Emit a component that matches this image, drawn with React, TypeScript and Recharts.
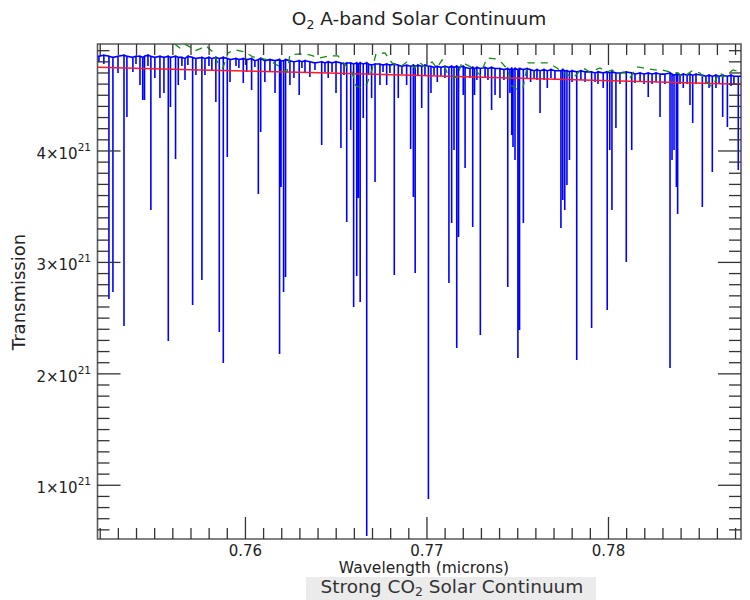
import { ComposedChart, Line, ReferenceArea, XAxis, YAxis } from "recharts";

// transmission values are in units of 1e21
// [wavelength (microns), local top of the spectrum, bottom of the line]
const absorption: [number, number, number][] = [
  [0.75185, 4.85, 4.85], [0.75193, 4.85, 4.8], [0.7522, 4.86, 4.781], [0.75248, 4.85, 2.671],
  [0.7527, 4.84, 2.734], [0.75298, 4.85, 4.7], [0.75331, 4.86, 2.429], [0.75347, 4.85, 4.305],
  [0.7538, 4.84, 4.709], [0.75397, 4.85, 4.781], [0.75419, 4.85, 4.592], [0.75434, 4.84, 4.458],
  [0.75444, 4.85, 4.458], [0.75463, 4.86, 4.763], [0.75479, 4.85, 3.47], [0.75501, 4.84, 4.655],
  [0.75529, 4.85, 4.476], [0.75551, 4.84, 4.521], [0.75575, 4.85, 2.294], [0.75587, 4.84, 4.395],
  [0.75615, 4.85, 3.928], [0.7563, 4.84, 4.592], [0.7565, 4.84, 4.763], [0.75667, 4.83, 4.637],
  [0.75683, 4.85, 4.772], [0.75709, 4.84, 2.618], [0.75727, 4.83, 4.682], [0.7576, 4.84, 2.842],
  [0.75777, 4.83, 4.682], [0.75799, 4.84, 4.763], [0.75815, 4.83, 4.727], [0.75837, 4.84, 4.44],
  [0.75856, 4.83, 2.375], [0.75878, 4.84, 2.097], [0.759, 4.83, 3.946], [0.75915, 4.82, 4.619],
  [0.75948, 4.83, 4.763], [0.75964, 4.82, 4.745], [0.75988, 4.83, 4.61], [0.76007, 4.82, 4.709],
  [0.76034, 4.83, 4.548], [0.76052, 4.81, 4.754], [0.76071, 4.82, 3.614], [0.76084, 4.83, 4.171],
  [0.76107, 4.81, 4.619], [0.76135, 4.82, 4.709], [0.76163, 4.81, 4.521], [0.76188, 4.82, 2.178],
  [0.76196, 4.81, 3.677], [0.7621, 4.81, 2.734], [0.76221, 4.82, 2.869], [0.76245, 4.81, 4.592],
  [0.76267, 4.8, 4.655], [0.76296, 4.81, 4.503], [0.76311, 4.8, 4.745], [0.76328, 4.81, 4.709],
  [0.76355, 4.8, 4.664], [0.76383, 4.79, 4.727], [0.7642, 4.8, 4.054], [0.76438, 4.79, 4.709],
  [0.76456, 4.8, 4.655], [0.76477, 4.79, 4.709], [0.76499, 4.8, 4.521], [0.76526, 4.79, 4.027],
  [0.76543, 4.78, 4.682], [0.76558, 4.79, 3.363], [0.7658, 4.79, 4.189], [0.76596, 4.78, 2.6],
  [0.76613, 4.79, 2.878], [0.76622, 4.78, 3.578], [0.76632, 4.79, 2.644], [0.76649, 4.78, 4.296],
  [0.76668, 4.79, 0.544], [0.76678, 4.78, 4.682], [0.76695, 4.77, 4.476], [0.76714, 4.78, 3.722],
  [0.76741, 4.78, 4.592], [0.76758, 4.77, 4.709], [0.76778, 4.78, 4.592], [0.76796, 4.77, 4.7],
  [0.7682, 4.78, 2.887], [0.76842, 4.77, 4.476], [0.76862, 4.76, 4.691], [0.76888, 4.77, 4.592],
  [0.7691, 4.76, 4.018], [0.76925, 4.77, 3.587], [0.76935, 4.76, 2.905], [0.7695, 4.77, 4.682],
  [0.76971, 4.76, 4.386], [0.76989, 4.77, 4.673], [0.77008, 4.76, 0.876], [0.77022, 4.76, 4.521],
  [0.77039, 4.75, 4.682], [0.77057, 4.76, 4.619], [0.77077, 4.75, 4.673], [0.77099, 4.76, 4.655],
  [0.77121, 4.75, 2.815], [0.77136, 4.76, 3.354], [0.77149, 4.75, 4.009], [0.77164, 4.76, 2.232],
  [0.77174, 4.75, 3.228], [0.772, 4.76, 4.503], [0.7721, 4.75, 3.847], [0.77237, 4.74, 4.655],
  [0.77252, 4.75, 3.318], [0.77262, 4.74, 4.503], [0.77275, 4.75, 4.637], [0.77294, 4.74, 2.348],
  [0.7732, 4.75, 4.655], [0.77336, 4.74, 4.637], [0.77356, 4.75, 4.368], [0.77375, 4.74, 4.503],
  [0.77402, 4.74, 4.476], [0.77424, 4.73, 4.637], [0.77445, 4.74, 2.779], [0.77457, 4.73, 4.521],
  [0.77467, 4.74, 4.144], [0.77474, 4.73, 4.036], [0.77485, 4.74, 3.919], [0.77501, 4.73, 2.142],
  [0.7751, 4.74, 2.393], [0.77531, 4.73, 3.354], [0.77551, 4.74, 4.655], [0.77571, 4.73, 4.619],
  [0.7759, 4.72, 4.655], [0.77606, 4.73, 4.637], [0.77623, 4.72, 4.341], [0.77645, 4.73, 4.637],
  [0.77663, 4.72, 4.566], [0.77683, 4.73, 4.655], [0.77705, 4.72, 4.637], [0.77738, 4.72, 3.309],
  [0.77748, 4.73, 3.56], [0.77759, 4.72, 3.47], [0.77771, 4.72, 3.695], [0.77785, 4.71, 3.919],
  [0.77799, 4.72, 4.619], [0.77825, 4.71, 2.124], [0.77848, 4.72, 4.637], [0.77871, 4.71, 4.619],
  [0.77907, 4.71, 2.411], [0.77926, 4.7, 4.619], [0.77942, 4.71, 4.601], [0.77971, 4.7, 4.566],
  [0.77993, 4.71, 2.573], [0.78007, 4.7, 4.009], [0.78019, 4.71, 3.47], [0.78041, 4.7, 4.206],
  [0.78063, 4.7, 4.601], [0.78098, 4.71, 3.004], [0.78128, 4.7, 4.009], [0.78146, 4.69, 4.61],
  [0.78174, 4.7, 4.619], [0.78196, 4.69, 4.601], [0.78219, 4.7, 4.485], [0.7824, 4.69, 4.601],
  [0.78262, 4.7, 4.619], [0.78284, 4.69, 4.305], [0.78311, 4.69, 4.601], [0.78339, 4.7, 2.052],
  [0.7835, 4.69, 3.919], [0.78361, 4.68, 4.009], [0.78374, 4.69, 3.677], [0.78381, 4.69, 3.434],
  [0.78394, 4.68, 4.601], [0.78412, 4.69, 4.566], [0.78433, 4.68, 4.601], [0.78449, 4.69, 4.413],
  [0.78464, 4.68, 4.251], [0.78482, 4.69, 4.601], [0.78517, 4.68, 3.497], [0.78537, 4.67, 4.601],
  [0.78554, 4.68, 4.566], [0.78572, 4.67, 3.811], [0.78592, 4.68, 4.566], [0.78609, 4.67, 4.601],
  [0.78629, 4.68, 4.305], [0.78655, 4.67, 4.215], [0.78675, 4.68, 4.583], [0.78691, 4.67, 4.601],
  [0.78715, 4.67, 3.829], [0.7873, 4.67, 4.67],
];

// red solar continuum
const redWl = [0.75185, 0.75749, 0.76355, 0.76961, 0.77512, 0.78119, 0.7873];
const redVal = [4.751, 4.727, 4.705, 4.678, 4.653, 4.626, 4.599];

// green dashed curve
const greenWl = [
  0.75185, 0.75309, 0.75474, 0.75595, 0.75639, 0.75661, 0.75694, 0.75722, 0.75749, 0.75782,
  0.75821, 0.75848, 0.75876, 0.75904, 0.75942, 0.75997, 0.76041, 0.7608, 0.76124, 0.76174,
  0.76229, 0.76245, 0.763, 0.76355, 0.7641, 0.7646, 0.7651, 0.76559, 0.76587, 0.76609,
  0.76642, 0.76669, 0.76697, 0.76719, 0.76769, 0.76807, 0.76851, 0.7689, 0.76934, 0.76956,
  0.76989, 0.77028, 0.77055, 0.77083, 0.77116, 0.77138, 0.77165, 0.77193, 0.7722, 0.77253,
  0.77292, 0.77331, 0.77375, 0.77413, 0.77446, 0.77468, 0.77501, 0.77529, 0.77556, 0.77612,
  0.77667, 0.77716, 0.77744, 0.7776, 0.77804, 0.7786, 0.77898, 0.77953, 0.77992, 0.78019,
  0.78047, 0.78091, 0.78118, 0.78157, 0.7819, 0.78256, 0.78295, 0.78339, 0.78383, 0.7841,
  0.7846, 0.78504, 0.78543, 0.7857, 0.78614, 0.78631, 0.78686, 0.7873,
];
const greenVal = [
  4.996, 5.014, 4.996, 4.979, 4.925, 4.961, 4.934, 4.898, 4.916, 4.943,
  4.889, 4.79, 4.745, 4.88, 4.907, 4.889, 4.844, 4.835, 4.817, 4.772,
  4.709, 4.862, 4.871, 4.862, 4.835, 4.853, 4.853, 4.754, 4.709, 4.583,
  4.566, 4.601, 4.727, 4.871, 4.88, 4.79, 4.754, 4.799, 4.745, 4.799,
  4.754, 4.799, 4.745, 4.817, 4.682, 4.673, 4.655, 4.799, 4.772, 4.745,
  4.682, 4.835, 4.826, 4.79, 4.727, 4.583, 4.548, 4.566, 4.79, 4.79,
  4.79, 4.745, 4.709, 4.7, 4.655, 4.745, 4.709, 4.745, 4.709, 4.727,
  4.7, 4.7, 4.655, 4.754, 4.745, 4.727, 4.727, 4.709, 4.7, 4.664,
  4.718, 4.7, 4.619, 4.575, 4.709, 4.664, 4.727, 4.709,
];

const xMajor = [0.76, 0.77, 0.78];
const yMajor = [1, 2, 3, 4];
const xMinor = Array.from({ length: 36 }, (_, i) => +(0.752 + i * 0.001).toFixed(3));
const yMinor = Array.from({ length: 44 }, (_, i) => +(0.6 + i * 0.1).toFixed(1));

const X_DOMAIN = [0.75185, 0.7873];
const Y_DOMAIN = [0.518, 4.96];
const MARGIN = { top: 44, right: 9, bottom: 0, left: 0 };
const CHART_W = 750;
const CHART_H = 600;
const PLOT_TOP = MARGIN.top;
const PLOT_RIGHT = CHART_W - MARGIN.right;
const FONT = "DejaVu Sans";
const BLUE = "#0000ff";
const FRAME = "#5a5a5a";
const TICK = "#333";

// spectrum trace: each line drops from the local top to its minimum and back
const trace = absorption.flatMap(([wl, top, min]) => [
  { wl, v: top }, { wl, v: min }, { wl, v: top },
]);
const redRows = redWl.map((wl, i) => ({ wl, v: redVal[i] }));
const greenRows = greenWl.map((wl, i) => ({ wl, v: greenVal[i] }));

// x tick: inward marks at bottom and top edge, label under majors
function WaveTick({ x, y, payload }: any) {
  const major = xMajor.includes(payload.value);
  return (
    <g>
      <line x1={x} x2={x} y1={y} y2={y - (major ? 22 : 11)} stroke={TICK} strokeWidth={1.3} />
      <line x1={x} x2={x} y1={PLOT_TOP} y2={PLOT_TOP + (major ? 21 : 11)} stroke={TICK} strokeWidth={1.3} />
      {major && (
        <text x={x} y={y + 17} textAnchor="middle" fill="#222" fontFamily={FONT}
              style={{ fontSize: "15px" }}>
          {payload.value.toFixed(2)}
        </text>
      )}
    </g>
  );
}

// y tick: inward marks at left and right edge, power-of-ten label on majors
function PowTick({ x, y, payload }: any) {
  const major = yMajor.includes(payload.value);
  return (
    <g>
      <line x1={x} x2={x + (major ? 23 : 12)} y1={y} y2={y} stroke={TICK} strokeWidth={1.3} />
      <line x1={PLOT_RIGHT} x2={PLOT_RIGHT - (major ? 23 : 12)} y1={y} y2={y} stroke={TICK} strokeWidth={1.3} />
      {major && (
        <text x={x - 6.5} y={y + 8} textAnchor="end" fill="#222" fontFamily={FONT}
              style={{ fontSize: "15px" }}>
          {payload.value}×10
          <tspan dy={-8} style={{ fontSize: "10.5px" }}>21</tspan>
        </text>
      )}
    </g>
  );
}

export default function App() {
  return (
    <div style={{ position: "absolute", left: 0, top: 0, width: CHART_W, height: CHART_H, background: "#fff" }}>
      <ComposedChart width={CHART_W} height={CHART_H} data={trace} margin={MARGIN}>
        <XAxis xAxisId="x" dataKey="wl" type="number" domain={X_DOMAIN} allowDataOverflow
               ticks={xMinor} interval={0} tickLine={false} axisLine={false} height={61}
               tickSize={0} tickMargin={0} tick={(p: any) => <WaveTick {...p} />} />
        <YAxis yAxisId="y" type="number" domain={Y_DOMAIN} allowDataOverflow ticks={yMinor}
               interval={0} tickLine={false} axisLine={false} width={97.5} tickSize={0}
               tickMargin={0} tick={(p: any) => <PowTick {...p} />} />

        <Line xAxisId="x" yAxisId="y" dataKey="v" stroke={BLUE} strokeWidth={1.6}
              dot={false} isAnimationActive={false} />
        <Line xAxisId="x" yAxisId="y" data={redRows} dataKey="v" stroke="#ff1a1a"
              strokeWidth={1.5} dot={false} isAnimationActive={false} />
        <Line xAxisId="x" yAxisId="y" data={greenRows} dataKey="v" stroke="#138a13"
              strokeWidth={1.3} strokeDasharray="7 6" dot={false} isAnimationActive={false} />

        <ReferenceArea xAxisId="x" yAxisId="y" x1={X_DOMAIN[0]} x2={X_DOMAIN[1]}
                       y1={Y_DOMAIN[0]} y2={Y_DOMAIN[1]} fill="none" fillOpacity={0}
                       stroke={FRAME} strokeWidth={1.6} ifOverflow="visible" />
      </ComposedChart>

      <svg width={CHART_W} height={CHART_H} style={{ position: "absolute", left: 0, top: 0, pointerEvents: "none" }}
           fontFamily={FONT}>
        <text x={419} y={25} textAnchor="middle" fontSize={18.5} fill="#222">
          O<tspan dy={4} fontSize={12.5}>2</tspan><tspan dy={-4}> A-band Solar Continuum</tspan>
        </text>
        <text transform="translate(25, 292) rotate(-90)" textAnchor="middle" fontSize={18} fill="#222">
          Transmission
        </text>
        <text x={424} y={573} textAnchor="middle" fontSize={15.5} fill="#222">
          Wavelength (microns)
        </text>
        <rect x={306} y={577} width={290} height={23} fill="#ebebeb" />
        <text x={452} y={593} textAnchor="middle" fontSize={18.5} fill="#333">
          Strong CO<tspan dy={3} fontSize={12.5}>2</tspan><tspan dy={-3}> Solar Continuum</tspan>
        </text>
      </svg>
    </div>
  );
}
